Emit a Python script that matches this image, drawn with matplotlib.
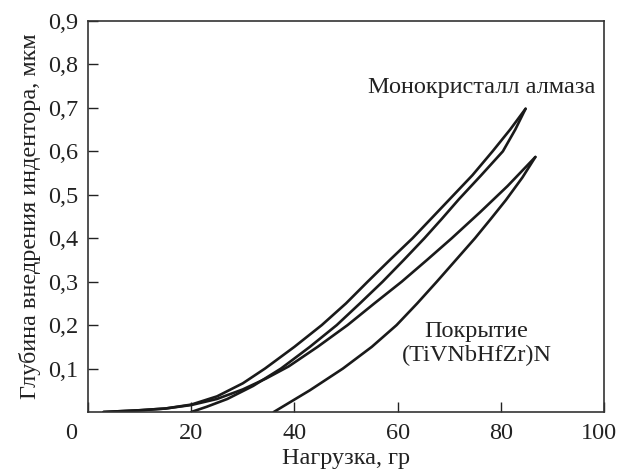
import matplotlib
matplotlib.use("Agg")
import matplotlib.pyplot as plt
import matplotlib.transforms as mtransforms

# Diamond monocrystal: loading and unloading branches
diamond_load_x = [3, 10, 15, 20, 25, 30, 34.3, 40, 45.3, 50, 54.2, 58.5, 62.9, 66.5, 70.1, 74.5, 78.4, 81.8, 84.8]
diamond_load_y = [0, 0.004, 0.008, 0.017, 0.036, 0.066, 0.1, 0.15, 0.2, 0.25, 0.3, 0.35, 0.4, 0.445, 0.49, 0.545, 0.6, 0.65, 0.698]
diamond_unload_x = [84.8, 82.8, 80.4, 76.2, 71.9, 68.6, 65.2, 61.2, 57.1, 52.7, 48.2, 43, 37.4, 32, 27, 23, 20]
diamond_unload_y = [0.698, 0.65, 0.6, 0.545, 0.49, 0.445, 0.4, 0.35, 0.3, 0.25, 0.2, 0.15, 0.1, 0.06, 0.03, 0.012, 0]

# Coating (TiVNbHfZr)N: loading and unloading branches
coat_load_x = [3, 10, 15, 20, 25, 30, 34.5, 38.9, 44.5, 50.3, 55.5, 60.8, 65.7, 70.5, 76.0, 81.3, 86.7]
coat_load_y = [0, 0.004, 0.008, 0.016, 0.03, 0.052, 0.077, 0.105, 0.15, 0.2, 0.25, 0.3, 0.35, 0.4, 0.46, 0.52, 0.587]
coat_unload_x = [86.7, 84.2, 81.0, 78.1, 75.0, 71.3, 67.6, 63.8, 59.8, 55, 49.4, 43, 36]
coat_unload_y = [0.587, 0.54, 0.488, 0.445, 0.4, 0.35, 0.3, 0.25, 0.2, 0.15, 0.1, 0.05, 0]

x_ticks = [0, 20, 40, 60, 80, 100]
x_tick_labels = ["0", "20", "40", "60", "80", "100"]
y_ticks = [0.1, 0.2, 0.3, 0.4, 0.5, 0.6, 0.7, 0.8, 0.9]
y_tick_labels = ["0,1", "0,2", "0,3", "0,4", "0,5", "0,6", "0,7", "0,8", "0,9"]

plt.rcParams['font.family'] = ['Liberation Serif', 'DejaVu Serif']

fig = plt.figure(figsize=(6.21, 4.70), dpi=100)
ax = fig.add_axes([88/621, 58/470, 516/621, 391/470])

lw = 1.9
for xs, ys in [(diamond_load_x, diamond_load_y), (diamond_unload_x, diamond_unload_y),
               (coat_load_x, coat_load_y), (coat_unload_x, coat_unload_y)]:
    ax.plot(xs, ys, color='#1a1a1a', lw=lw, solid_capstyle='round', solid_joinstyle='round')

fs = 17.5
ax.set_xlim(0, 100)
ax.set_ylim(0, 0.9)
ax.set_xticks(x_ticks)
ax.set_xticklabels(x_tick_labels)
ax.set_yticks(y_ticks)
ax.set_yticklabels(y_tick_labels)
ax.tick_params(direction='in', length=7, width=1.0, labelsize=fs, colors='#222222',
               top=False, right=False)
ax.tick_params(axis='x', pad=8)
ax.tick_params(axis='y', pad=7)
for s in ax.spines.values():
    s.set_linewidth(1.2)
    s.set_color('#333333')

# shift the end x labels inward as in the reference
xlbls = ax.get_xticklabels()
xlbls[0].set_transform(xlbls[0].get_transform() + mtransforms.ScaledTranslation(-17/100, 0, fig.dpi_scale_trans))
xlbls[-1].set_transform(xlbls[-1].get_transform() + mtransforms.ScaledTranslation(-5/100, 0, fig.dpi_scale_trans))

ax.set_xlabel("Нагрузка, гр", fontsize=fs, color='#222222', labelpad=3)
ax.set_ylabel("Глубина внедрения индентора, мкм", fontsize=fs, color='#222222', labelpad=5)

ax.text(98.3, 0.748, "Монокристалл алмаза", ha='right', va='center', fontsize=fs, color='#222222')
ax.text(75.3, 0.158, "Покрытие\n(TiVNbHfZr)N", ha='center', va='center', fontsize=fs,
        color='#222222', linespacing=1.15)

fig.savefig("out.png", dpi=100)
